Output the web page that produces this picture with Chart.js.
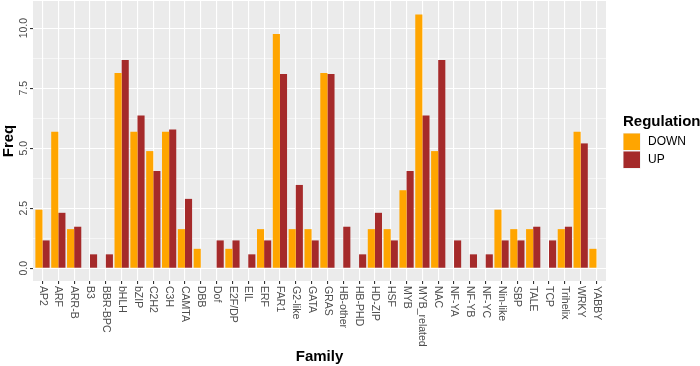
<!DOCTYPE html>
<html>
<head>
<meta charset="utf-8">
<script src="https://cdn.jsdelivr.net/npm/chart.js@4"></script>
<style>
  html, body { margin: 0; padding: 0; background: #fff; }
  #wrap { width: 700px; height: 366px; }
</style>
</head>
<body>
<div id="wrap"><canvas id="barChart" width="700" height="366"></canvas></div>
<script>
// transcription factor families
const families = ['AP2', 'ARF', 'ARR-B', 'B3', 'BBR-BPC', 'bHLH', 'bZIP', 'C2H2', 'C3H', 'CAMTA',
  'DBB', 'Dof', 'E2F/DP', 'EIL', 'ERF', 'FAR1', 'G2-like', 'GATA', 'GRAS', 'HB-other',
  'HB-PHD', 'HD-ZIP', 'HSF', 'MYB', 'MYB_related', 'NAC', 'NF-YA', 'NF-YB', 'NF-YC', 'Nin-like',
  'SBP', 'TALE', 'TCP', 'Trihelix', 'WRKY', 'YABBY'];

// Freq (null = no bar)
const down = [2.44, 5.69, 1.63, null, null, 8.13, 5.69, 4.88, 5.69, 1.63,
  0.81, null, 0.81, null, 1.63, 9.76, 1.63, 1.63, 8.13, null,
  null, 1.63, 1.63, 3.25, 10.57, 4.88, null, null, null, 2.44,
  1.63, 1.63, null, 1.63, 5.69, 0.81];
const up = [1.16, 2.31, 1.73, 0.58, 0.58, 8.67, 6.36, 4.05, 5.78, 2.89,
  null, 1.16, 1.16, 0.58, 1.16, 8.09, 3.47, 1.16, 8.09, 1.73,
  0.58, 2.31, 1.16, 4.05, 6.36, 8.67, 1.16, 0.58, 0.58, 1.16,
  1.16, 1.73, 1.16, 1.73, 5.20, null];

const yTicks = [0, 1.25, 2.5, 3.75, 5, 6.25, 7.5, 8.75, 10];
const seriesNames = ['DOWN', 'UP'];
const seriesColors = ['#FFA500', '#A52A2A'];

const FONT = "'Liberation Sans', Arial, sans-serif";

const toPoints = arr => arr.map((v, i) => ({ x: i, y: v }));

// grey panel + custom legend + rotated tick labels
const ggStyle = {
  id: 'ggStyle',
  beforeDraw(chart) {
    const { ctx, chartArea: a } = chart;
    ctx.save();
    ctx.fillStyle = '#EBEBEB';
    ctx.fillRect(a.left, a.top, a.right - a.left, a.bottom - a.top);
    ctx.restore();
  },
  afterDraw(chart) {
    const { ctx } = chart;
    const xs = chart.scales.x, ys = chart.scales.y;
    ctx.save();
    ctx.fillStyle = '#4D4D4D';
    ctx.font = '10.5px ' + FONT;

    // x labels, turned clockwise
    ctx.textAlign = 'left';
    ctx.textBaseline = 'middle';
    families.forEach((f, i) => {
      const px = xs.getPixelForValue(i);
      ctx.save();
      ctx.translate(px, 286);
      ctx.rotate(Math.PI / 2);
      ctx.fillText(f, 0, 0);
      ctx.restore();
    });

    // y labels, turned counter-clockwise
    ctx.textAlign = 'center';
    yTicks.filter(v => v % 2.5 === 0).forEach(v => {
      const py = ys.getPixelForValue(v);
      ctx.save();
      ctx.translate(24, py);
      ctx.rotate(-Math.PI / 2);
      ctx.fillText(v.toFixed(1), 0, 0);
      ctx.restore();
    });

    // legend
    ctx.fillStyle = '#000';
    ctx.textAlign = 'left';
    ctx.font = 'bold 15px ' + FONT;
    ctx.fillText('Regulation', 623, 122);
    ctx.font = '12px ' + FONT;
    seriesNames.forEach((n, i) => {
      const top = 133 + i * 18;
      ctx.fillStyle = '#EBEBEB';
      ctx.fillRect(623, top, 17.5, 17.5);
      ctx.fillStyle = seriesColors[i];
      ctx.fillRect(623.5, top + 0.5, 16.5, 16.5);
      ctx.fillStyle = '#000';
      ctx.fillText(n, 648, top + 9);
    });
    ctx.restore();
  }
};

const ctx = document.getElementById('barChart').getContext('2d');
new Chart(ctx, {
  type: 'bar',
  data: {
    datasets: [
      { label: seriesNames[0], data: toPoints(down), backgroundColor: seriesColors[0] },
      { label: seriesNames[1], data: toPoints(up), backgroundColor: seriesColors[1] }
    ]
  },
  options: {
    responsive: false,
    animation: false,
    devicePixelRatio: 1,
    categoryPercentage: 0.9,
    barPercentage: 1.0,
    layout: { padding: { top: 1, right: 94, left: 0, bottom: 0 } },
    plugins: { legend: { display: false }, tooltip: { enabled: false } },
    scales: {
      x: {
        type: 'linear',
        offset: false,
        min: -0.6,
        max: 35.6,
        afterBuildTicks: s => { s.ticks = families.map((f, i) => ({ value: i })); },
        afterFit: s => { s.height = 85; },
        ticks: { display: false },
        grid: { offset: false, color: '#FFFFFF', lineWidth: 1.1, drawTicks: true, tickLength: 3, tickColor: '#333333', tickWidth: 1.1 },
        border: { display: false },
        title: {
          display: true, text: 'Family', color: '#000',
          font: { family: FONT, size: 15, weight: 'bold' },
          padding: { top: 0, bottom: 0 }
        }
      },
      y: {
        min: -0.53,
        max: 11.13,
        afterBuildTicks: s => { s.ticks = yTicks.map(v => ({ value: v })); },
        afterFit: s => { s.width = 33; },
        ticks: { display: false },
        grid: {
          color: '#FFFFFF',
          lineWidth: c => (c.tick && c.tick.value % 2.5 === 0 ? 1.1 : 0.55),
          drawTicks: true,
          tickLength: 3,
          tickWidth: 1.1,
          tickColor: c => (c.tick && c.tick.value % 2.5 === 0 ? '#333333' : 'rgba(0,0,0,0)')
        },
        border: { display: false },
        title: {
          display: true, text: 'Freq', color: '#000',
          font: { family: FONT, size: 15, weight: 'bold' },
          padding: { top: 0, bottom: 0 }
        }
      }
    }
  },
  plugins: [ggStyle]
});
</script>
</body>
</html>
